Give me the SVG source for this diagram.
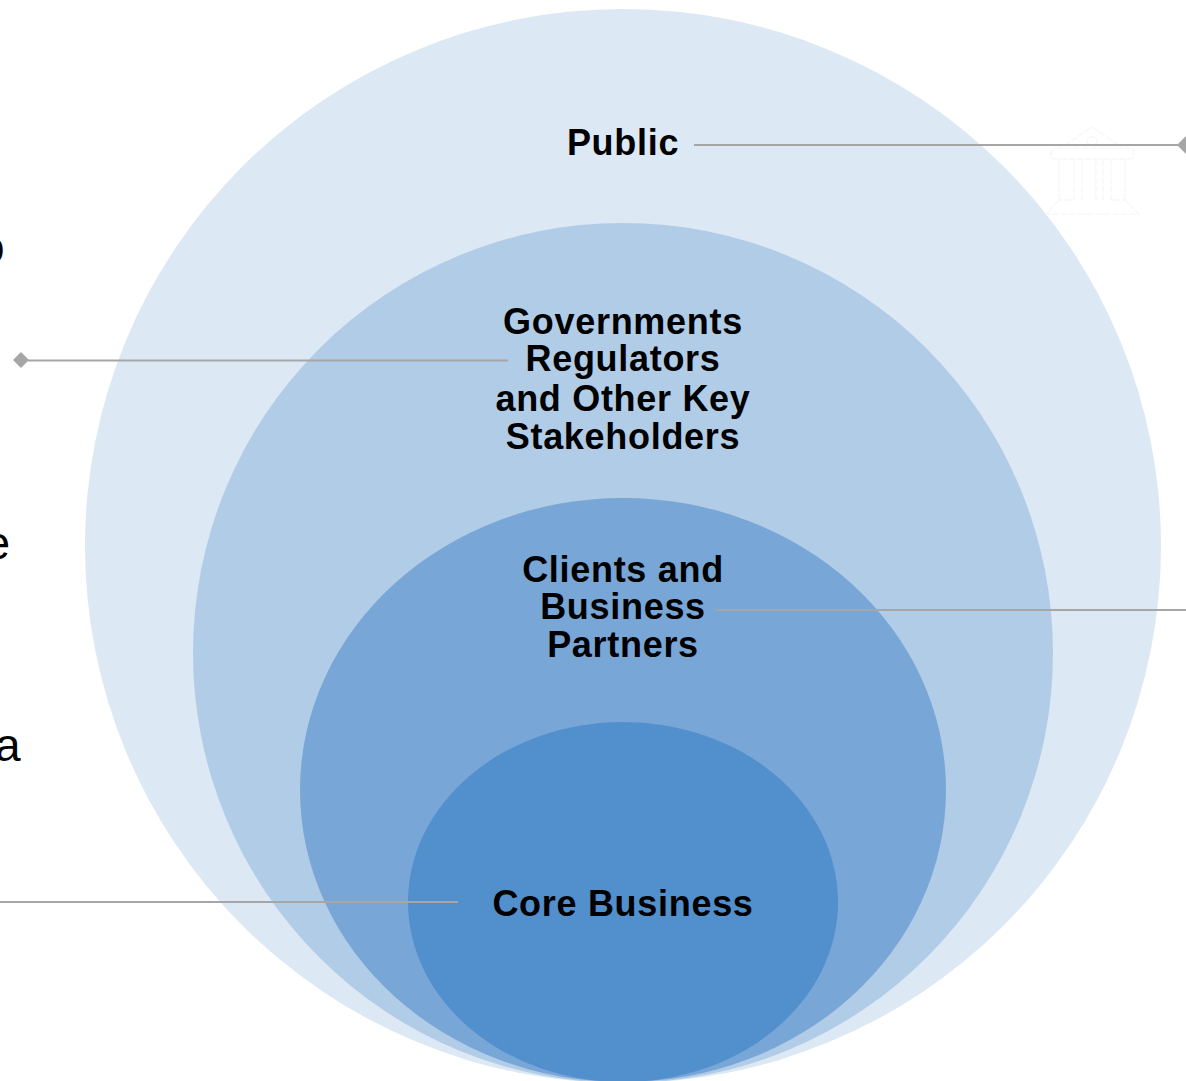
<svg xmlns="http://www.w3.org/2000/svg" width="1186" height="1081" viewBox="0 0 1186 1081">
<style>
text{font-family:"Liberation Sans",Arial,sans-serif;fill:#000}
.l{font-size:36px;font-weight:700;text-anchor:middle;letter-spacing:.7px}
.s{font-size:46px;text-anchor:end}
.c{fill:none;stroke:#a6a6a6;stroke-width:2}
.d{fill:#a6a6a6}
.i{fill:none;stroke:#f7f7f7;stroke-width:1.4;stroke-dasharray:7 1.5}
</style>
<rect width="1186" height="1081" fill="#fff"/>
<g id="public"><ellipse cx="623" cy="546" rx="538" ry="537" fill="#dce8f4"/><text class="l" x="623" y="155">Public</text></g>
<g id="governments"><ellipse cx="623" cy="653" rx="430" ry="430" fill="#b1cce6"/><text class="l"><tspan x="623" y="334">Governments</tspan><tspan x="623" y="371">Regulators</tspan><tspan x="623" y="411">and Other Key</tspan><tspan x="623" y="449">Stakeholders</tspan></text></g>
<g id="clients"><ellipse cx="623" cy="790" rx="323" ry="292" fill="#78a6d6"/><text class="l"><tspan x="623" y="582">Clients and</tspan><tspan x="623" y="619">Business</tspan><tspan x="623" y="657">Partners</tspan></text></g>
<g id="core"><ellipse cx="623" cy="902" rx="215" ry="180" fill="#528fcd"/><text class="l" x="623" y="916">Core Business</text></g>
<g id="icon"><path class="i" d="M1064 146L1092 127L1120 146M1056 148H1131Q1135 150 1134 155Q1134 159 1130 159H1056Q1051 159 1051 154Q1051 149 1056 148ZM1059 160V200M1125 160V200M1074 160V200H1059M1082 160V200M1096 160V200M1103 160V200M1111 160V200H1125M1059 200L1046 214H1139L1125 200"/><ellipse class="i" cx="1092" cy="141" rx="5" ry="4"/></g>
<g id="connectors">
<path class="c" d="M694 145H1180"/><path class="d" d="M1186 136L1177 145L1186 154Z"/>
<path class="c" d="M28 360.500H508"/><path class="d" d="M21 352L29 360L21 368L13 360Z"/>
<path class="c" d="M716 610H1186"/>
<path class="c" d="M0 902H458"/>
</g>
<g id="clipped-text">
<text class="s" x="4.500" y="263">o</text>
<text class="s" x="10" y="559">e</text>
<text class="s" x="20.500" y="761">a</text>
</g>
</svg>
